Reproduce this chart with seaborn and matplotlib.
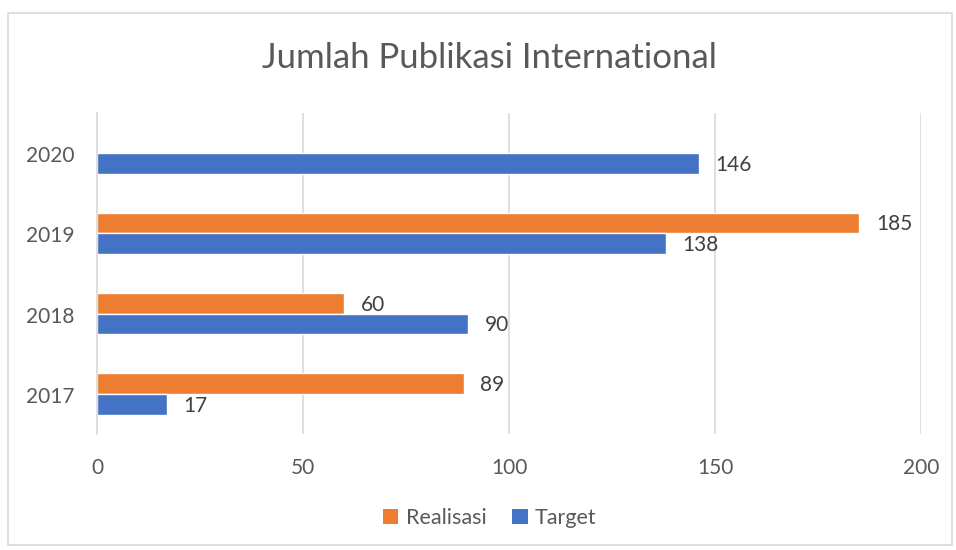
import matplotlib
matplotlib.use("Agg")
import matplotlib.pyplot as plt
import matplotlib.transforms as mtransforms
import seaborn as sns
import pandas as pd
import numpy as np
from matplotlib.patches import Rectangle, Patch

years = ["2020", "2019", "2018", "2017"]
realisasi = [np.nan, 185, 60, 89]
target = [146, 138, 90, 17]
series_names = ["Realisasi", "Target"]
colors = {"Realisasi": "#ED7D31", "Target": "#4472C4"}
xticks = [0, 50, 100, 150, 200]

df = pd.DataFrame({
    "Tahun": years * 2,
    "Seri": ["Realisasi"] * len(years) + ["Target"] * len(years),
    "Nilai": realisasi + target,
})

sns.set_theme(style="white")
plt.rcParams["font.family"] = ["Lato", "DejaVu Sans"]
txt = "#595959"

fig = plt.figure(figsize=(9.56, 5.5), dpi=100)
ax = fig.add_axes([97 / 956, 1 - 434 / 550, (921 - 97) / 956, (434 - 113) / 550])

sns.barplot(data=df, y="Tahun", x="Nilai", hue="Seri", order=years,
            hue_order=series_names, palette=colors, orient="h",
            width=0.52, ax=ax, legend=False, saturation=1)

ax.set_xlim(0, 200)
ax.set_xticks(xticks)
ax.set_xticklabels([str(t) for t in xticks], fontsize=15, color=txt)
ax.tick_params(axis="x", length=0, pad=17)
ax.tick_params(axis="y", length=0, pad=16, labelsize=15, labelcolor=txt)
shift = mtransforms.ScaledTranslation(0, -3 / 100, fig.dpi_scale_trans)
for lab in ax.get_yticklabels():
    lab.set_va("center")
    lab.set_transform(lab.get_transform() + shift)
ax.grid(axis="x", color="#D9D9D9", linewidth=1.2)
ax.set_axisbelow(True)
for s in ["top", "right", "bottom"]:
    ax.spines[s].set_visible(False)
ax.spines["left"].set_color("#D9D9D9")
ax.spines["left"].set_linewidth(1.2)
ax.set_xlabel("")
ax.set_ylabel("")

for cont in ax.containers:
    for bar in cont:
        w = bar.get_width()
        if np.isnan(w) or w == 0:
            continue
        ax.annotate(f"{int(round(w))}", (w, bar.get_y() + bar.get_height() / 2),
                    xytext=(12, -1), textcoords="offset points",
                    va="center", ha="left", fontsize=15, color="#404040")

fig.text(489 / 956, 1 - 58 / 550, "Jumlah Publikasi International",
         ha="center", va="center", fontsize=25, color=txt)

handles = [Patch(facecolor=colors[n], edgecolor="none", label=n) for n in series_names]
fig.legend(handles=handles, loc="center", bbox_to_anchor=(490 / 956, 1 - 518 / 550),
           ncol=2, frameon=False, fontsize=15.5, handlelength=0.7, handleheight=0.7,
           handletextpad=0.35, columnspacing=1.2, labelcolor=txt)

fig.patches.append(Rectangle((8 / 956, 1 - 545 / 550), (952 - 8) / 956, (545 - 13) / 550,
                             transform=fig.transFigure, fill=False,
                             edgecolor="#D9D9D9", linewidth=1.2))

fig.savefig("out.png", dpi=100, facecolor="white")
